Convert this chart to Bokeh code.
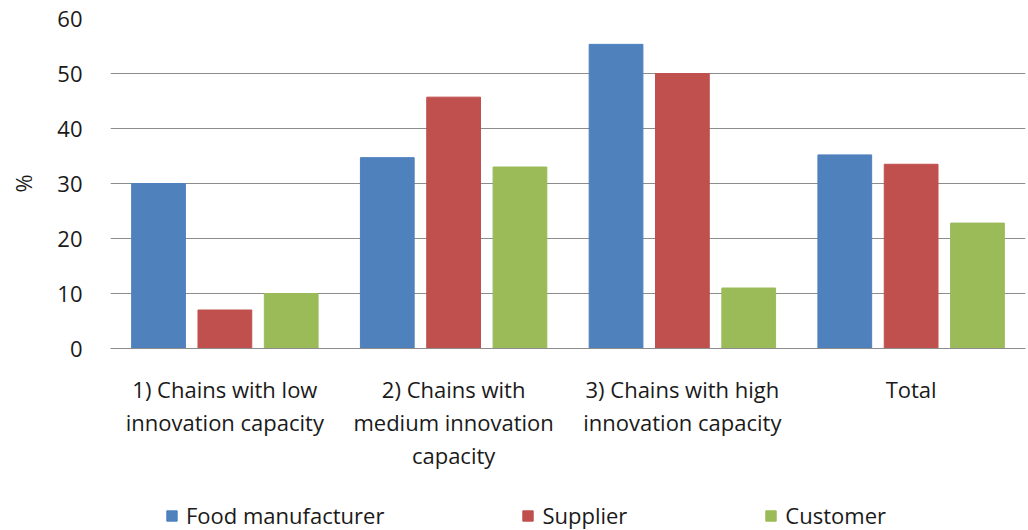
from bokeh.plotting import figure
from bokeh.layouts import column
from bokeh.models import ColumnDataSource, FactorRange, Legend, LegendItem
from bokeh.transform import dodge
from bokeh.embed import file_html
from bokeh.resources import INLINE

categories = [
    "1) Chains with low\ninnovation capacity",
    "2) Chains with\nmedium innovation\ncapacity",
    "3) Chains with high\ninnovation capacity",
    "Total",
]
food_manufacturer = [30.0, 34.7, 55.3, 35.2]
supplier = [7.0, 45.7, 50.0, 33.5]
customer = [10.0, 33.0, 11.0, 22.8]
series_names = ["Food manufacturer", "Supplier", "Customer"]
y_ticks = [0, 10, 20, 30, 40, 50, 60]

colors = ["#4F81BD", "#C0504D", "#9BBB59"]
series_keys = ["food", "supplier", "customer"]
offsets = [-0.29, 0.0, 0.29]
FONT = "Open Sans"
FONT_SIZE = "22px"
TEXT = "#1a1a1a"

source = ColumnDataSource(dict(
    cat=categories,
    food=food_manufacturer,
    supplier=supplier,
    customer=customer,
))

p = figure(
    width=1028, height=478,
    x_range=FactorRange(*categories, range_padding=0),
    y_range=(0, 60),
    output_backend="svg", toolbar_location=None,
    min_border_left=110, min_border_right=3,
    min_border_top=18, min_border_bottom=130,
)

for key, off, col in zip(series_keys, offsets, colors):
    p.vbar(x=dodge("cat", off, range=p.x_range), top=key, width=0.235,
           source=source, fill_color=col, line_color=col)

p.outline_line_color = None
p.xgrid.grid_line_color = None
p.ygrid.grid_line_color = "#8C8C8C"
p.ygrid.grid_line_width = 1
p.yaxis.ticker = y_ticks

p.yaxis.axis_line_color = None
p.yaxis.major_tick_line_color = None
p.yaxis.minor_tick_line_color = None
p.yaxis.major_label_standoff = 22
p.yaxis.major_label_text_font = FONT
p.yaxis.major_label_text_font_size = FONT_SIZE
p.yaxis.major_label_text_color = TEXT
p.yaxis.axis_label = "%"
p.yaxis.axis_label_text_font = FONT
p.yaxis.axis_label_text_font_size = FONT_SIZE
p.yaxis.axis_label_text_font_style = "normal"
p.yaxis.axis_label_text_color = TEXT
p.yaxis.axis_label_standoff = 16

p.xaxis.axis_line_color = "#8C8C8C"
p.xaxis.major_tick_line_color = None
p.xaxis.minor_tick_line_color = None
p.xaxis.major_label_standoff = 19
p.xaxis.major_label_text_font = FONT
p.xaxis.major_label_text_font_size = FONT_SIZE
p.xaxis.major_label_text_color = TEXT
p.xaxis.major_label_text_line_height = 1.1

# Series key in its own strip under the chart; its bars sit outside the
# visible y range so only the legend swatches show.
key_fig = figure(
    width=1028, height=52, x_range=p.x_range, y_range=(1000, 1001),
    output_backend="svg", toolbar_location=None,
    x_axis_location=None, y_axis_location=None,
    min_border=0, outline_line_color=None,
)
key_fig.grid.grid_line_color = None
swatches = []
for key, off, col in zip(series_keys, offsets, colors):
    swatches.append(key_fig.vbar(x=dodge("cat", off, range=p.x_range), top=key,
                                 width=0.235, source=source,
                                 fill_color=col, line_color=col))

legend = Legend(
    items=[LegendItem(label=n, renderers=[r]) for n, r in zip(series_names, swatches)],
    orientation="horizontal",
    location=(55, 0),
    label_text_font=FONT,
    label_text_font_size=FONT_SIZE,
    label_text_color=TEXT,
    glyph_width=13, glyph_height=13,
    label_standoff=8,
    spacing=137,
    padding=0, margin=0,
    border_line_color=None,
    background_fill_alpha=0,
)
key_fig.add_layout(legend, "center")

layout = column(p, key_fig, spacing=0)
open("out.html", "w").write(file_html(layout, INLINE))
